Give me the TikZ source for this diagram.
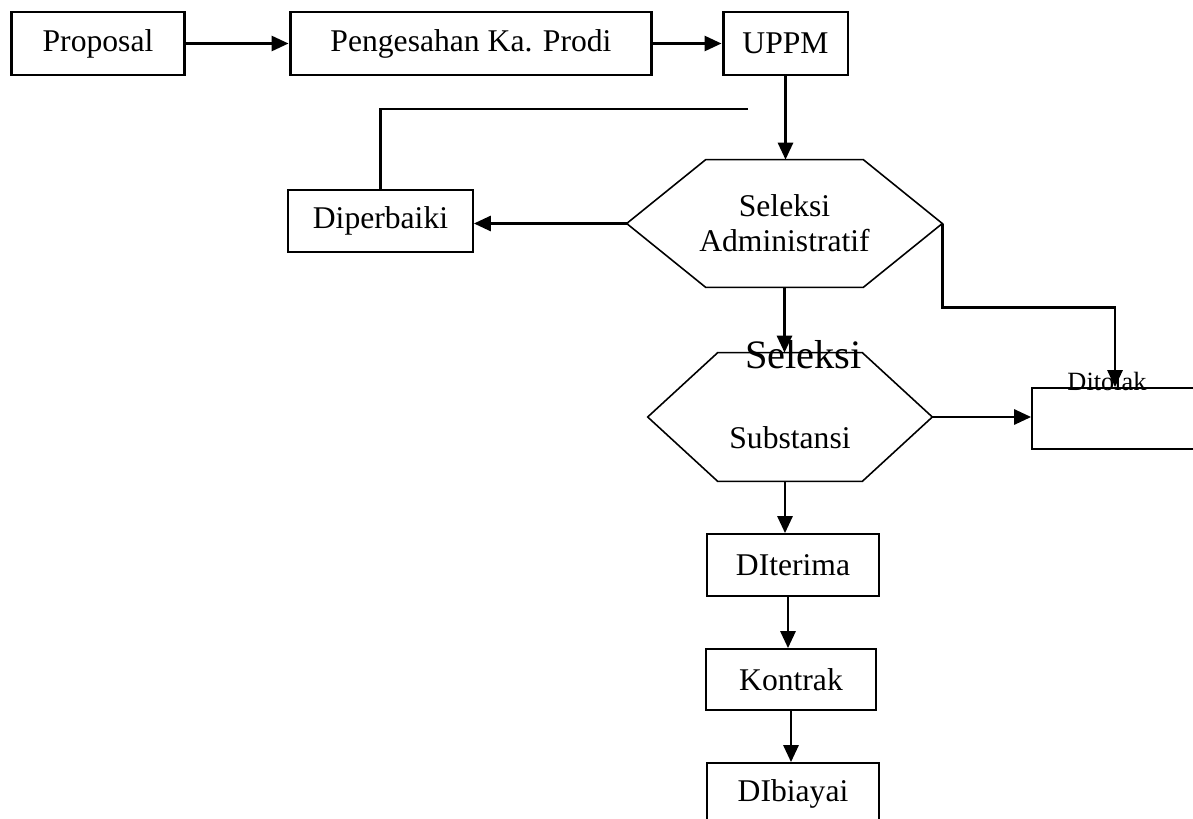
\documentclass[tikz,border=0pt]{standalone}
\usepackage{fontspec}
\setmainfont{Liberation Serif}
\usetikzlibrary{arrows.meta, positioning, calc}

\tikzset{
    txt/.style={font=\fontsize{18}{21}\selectfont},
    topbox/.style={draw, txt, line width=1.7pt, minimum height=1.26cm, inner sep=0pt},
    stepbox/.style={draw, txt, line width=1pt, minimum height=1.24cm, inner sep=0pt},
    hexnode/.style={txt, inner sep=0pt, align=center},
    hexline/.style={line width=0.9pt, line join=miter},
    conn/.style={line width=1.6pt},
    arr/.style={conn, -{Triangle[length=0.34cm, width=0.3cm]}},
}

\begin{document}
\begin{tikzpicture}[x=0.02cm, y=-0.02cm]
    \useasboundingbox (0,0) rectangle (1193,818);

    % baris atas
    \node[topbox, minimum width=3.48cm] (proposal) at (98,43.5) {Proposal};
    \node[topbox, minimum width=7.24cm] (prodi) at (471,43.5) {Pengesahan Ka. Prodi};
    \node[topbox, minimum width=2.5cm] (uppm) at (785.5,43.5) {UPPM};

    % seleksi administratif
    \node[hexnode, minimum width=6.3cm, minimum height=2.54cm] (adm) at (784.5,223.5) {Seleksi\\[-1pt]Administratif};
    \draw[hexline] (adm.west) -- ($(adm.north west)+(79,0)$) -- ($(adm.north east)+(-79,0)$)
        -- (adm.east) -- ($(adm.south east)+(-79,0)$) -- ($(adm.south west)+(79,0)$) -- cycle;

    \node[stepbox, minimum width=3.7cm] (diperbaiki) at (380.5,221) {Diperbaiki};
    \coordinate (kembali) at (748,109);

    % seleksi substansi
    \node[hexnode, minimum width=5.68cm, minimum height=2.56cm] (substansi) at (790,417) {};
    \draw[hexline] (substansi.west) -- ($(substansi.north west)+(70,0)$) -- ($(substansi.north east)+(-70,0)$)
        -- (substansi.east) -- ($(substansi.south east)+(-70,0)$) -- ($(substansi.south west)+(70,0)$) -- cycle;
    \node[txt, anchor=base] (substtxt) at (790,448) {Substansi};
    \node[font=\fontsize{23}{27}\selectfont, anchor=base] (seleksitxt) at (803.5,368) {Seleksi};

    \node[stepbox, minimum width=3.32cm, minimum height=1.22cm] (ditolak) at (1115,418.5) {};
    \node[font=\fontsize{15}{18}\selectfont, anchor=base, inner sep=0pt] (ditolaktxt) at (1107,390) {Ditolak};

    % hasil
    \node[stepbox, minimum width=3.44cm] (diterima) at (793,565) {DIterima};
    \node[stepbox, minimum width=3.4cm, minimum height=1.22cm] (kontrak) at (791,679.5) {Kontrak};
    \node[stepbox, minimum width=3.44cm] (dibiayai) at (793,794) {DIbiayai};

    % panah
    \draw[arr] (proposal) -- (prodi);
    \draw[arr] (prodi) -- (uppm);
    \draw[arr] (uppm.south) -- (uppm.south |- adm.north);
    \draw[conn] (kembali) -| (diperbaiki.north);
    \draw[arr] (adm.west) -- (adm.west -| diperbaiki.east);
    \draw[arr] (adm.east) -- ++(0,84) -| (ditolak.north);
    \draw[arr] (adm.south) -- (adm.south |- substansi.north);
    \draw[arr] (substansi.east) -- (substansi.east -| ditolak.west);
    \draw[arr] ([xshift=-0.1cm]substansi.south) -- ([xshift=-0.1cm]substansi.south |- diterima.north);
    \draw[arr] ([xshift=-0.1cm]diterima.south) -- ([xshift=-0.1cm]diterima.south |- kontrak.north);
    \draw[arr] (kontrak.south) -- (kontrak.south |- dibiayai.north);
\end{tikzpicture}
\end{document}
